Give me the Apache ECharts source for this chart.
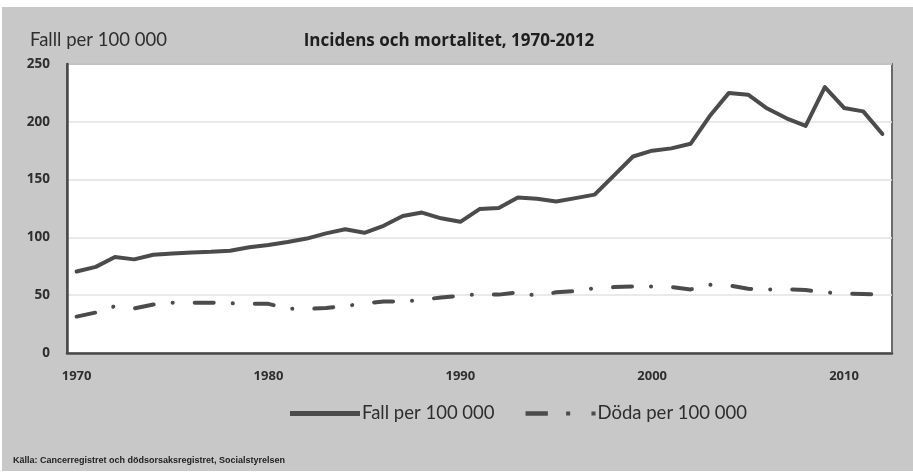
<!DOCTYPE html>
<html>
<head>
<meta charset="utf-8">
<script src="https://cdn.jsdelivr.net/npm/echarts@6/dist/echarts.min.js"></script>
<style>
  html, body { margin: 0; padding: 0; background: #ffffff; }
  #frame { position: absolute; left: 2px; top: 7px; width: 911px; height: 464px; background: #c8c8c8; }
  #chart { position: absolute; left: 0; top: 0; width: 913px; height: 474px; }
</style>
</head>
<body>
<div id="frame"></div>
<div id="chart"></div>
<script>
// Years on the category axis
const years = [];
for (let y = 1970; y <= 2012; y++) years.push(String(y));

// Incidence per 100 000
const fall = [
  70.5, 74.5, 83, 81, 85, 86, 87, 87.5, 88.5, 91.5,
  93.5, 96, 99, 103.5, 107, 104, 110, 118.5, 121.5, 116.5,
  113.5, 124.5, 125.5, 134.5, 133.5, 131, 134, 137, 153.5, 170,
  175, 177, 181, 205, 225, 223.5, 211.5, 203, 196.5, 230,
  212, 209, 189.5
];

// Mortality per 100 000
const doda = [
  31.5, 35, 40.5, 38.5, 42, 43.5, 43.5, 43.5, 43, 42.5,
  42.5, 38.5, 38, 39, 40.5, 43, 44.5, 44.5, 46, 48,
  49.5, 51, 50.5, 52.5, 49.5, 52.5, 53.5, 56, 57, 57.5,
  57.5, 57, 55, 59, 58.5, 55.5, 55, 55, 54.5, 52.5,
  51.5, 51, 50.5
];

const yTicks = { min: 0, max: 250, step: 50 };

const seriesNames = ['Fall per 100 000', 'Döda per 100 000'];

const lineColor = '#4b4b4b';
const textColor = '#2e2e2e';

const chart = echarts.init(document.getElementById('chart'), null, { renderer: 'canvas' });

chart.setOption({
  backgroundColor: 'transparent',
  animation: false,
  title: [
    {
      text: 'Incidens och mortalitet, 1970-2012',
      left: 449, top: 33, textAlign: 'center', padding: 0,
      textStyle: { fontFamily: 'Open Sans', fontWeight: 'bold', fontSize: 17, color: '#1e1e1e' }
    },
    {
      text: 'Falll per 100 000',
      left: 30, top: 31, padding: 0,
      textStyle: { fontFamily: 'Lato', fontWeight: 'normal', fontSize: 18.5, color: textColor }
    },
    {
      text: 'Källa: Cancerregistret och dödsorsaksregistret, Socialstyrelsen',
      left: 13, top: 456, padding: 0,
      textStyle: { fontFamily: 'Liberation Sans', fontWeight: 'bold', fontSize: 9, color: '#1e1e1e' }
    }
  ],
  legend: {
    left: 290, top: 404, padding: 0,
    itemWidth: 70, itemHeight: 5, itemGap: 31,
    textStyle: { fontFamily: 'Lato', fontSize: 18.5, color: textColor, padding: [0, 0, 0, -3] },
    data: [
      { name: seriesNames[0], icon: 'path://M0,0H70V5H0Z' },
      { name: seriesNames[1], icon: 'path://M0,0.3H22V4.7H0ZM40,0.5H44V4.5H40ZM65,0.5H69V4.5H65Z' }
    ]
  },
  grid: {
    left: 67, right: 21, top: 64, bottom: 121,
    show: true, backgroundColor: '#ffffff', borderColor: '#6a6a6a', borderWidth: 2
  },
  xAxis: {
    type: 'category',
    data: years,
    boundaryGap: true,
    axisLine: { lineStyle: { color: '#4a4a4a', width: 2.5 } },
    axisTick: { interval: 9, inside: true, length: 5, lineStyle: { color: '#4a4a4a', width: 1.5 } },
    axisLabel: {
      interval: 9, margin: 17,
      fontFamily: 'Open Sans', fontWeight: 'bold', fontSize: 13, color: textColor
    },
    splitLine: { show: false }
  },
  yAxis: {
    type: 'value',
    min: yTicks.min, max: yTicks.max, interval: yTicks.step,
    axisLine: { show: true, lineStyle: { color: '#4a4a4a', width: 2.5 } },
    axisTick: { show: false },
    axisLabel: {
      margin: 17,
      fontFamily: 'Open Sans', fontWeight: 'bold', fontSize: 13.5, color: textColor
    },
    splitLine: { lineStyle: { color: '#e2e2e2', width: 1.5 } }
  },
  series: [
    {
      name: seriesNames[0],
      type: 'line',
      data: fall,
      symbol: 'none',
      color: lineColor,
      lineStyle: { color: lineColor, width: 4, cap: 'round', join: 'round' }
    },
    {
      name: seriesNames[1],
      type: 'line',
      data: doda,
      symbol: 'none',
      color: lineColor,
      lineStyle: { color: lineColor, width: 4, type: [19, 19, 0.1, 22], cap: 'round', join: 'round' }
    }
  ]
});
</script>
</body>
</html>
